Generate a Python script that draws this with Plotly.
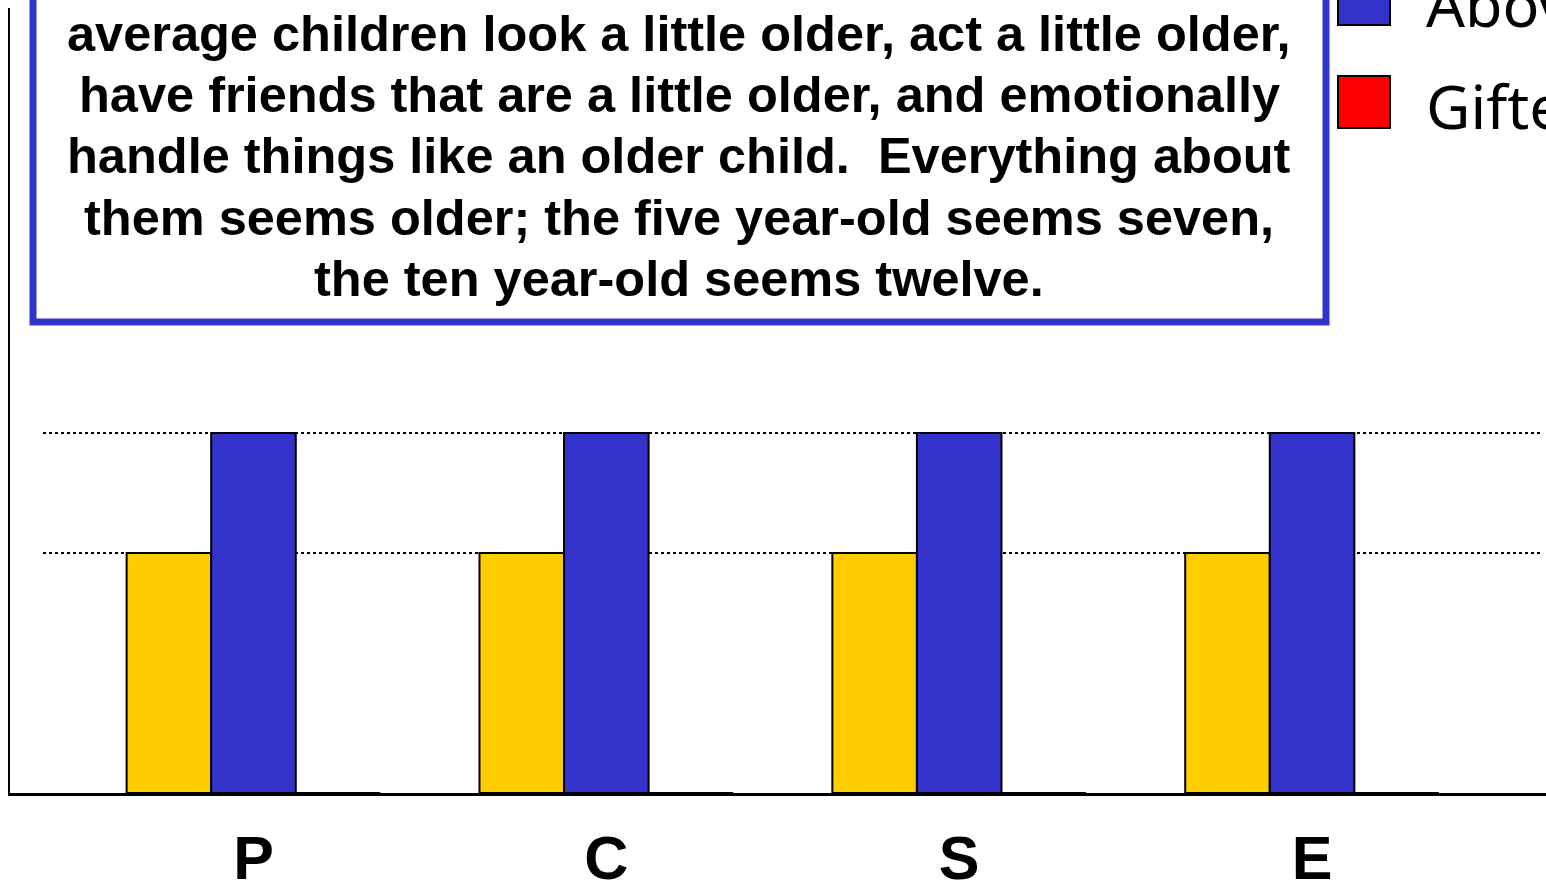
import plotly.graph_objects as go

# ---------------- data ----------------
categories = ["P", "C", "S", "E"]
series_names = ["Average", "Above Average", "Gifted"]
average = [2, 2, 2, 2]
above_average = [3, 3, 3, 3]
gifted = [0, 0, 0, 0]
series_colors = ["#FFCC00", "#3333CC", "#FF0000"]
gridline_values = [2, 3]
box_lines = [
    "average children look a little older, act a little older,",
    "have friends that are a little older, and emotionally",
    "handle things like an older child.  Everything about",
    "them seems older; the five year-old seems seven,",
    "the ten year-old seems twelve.",
]

# ---------------- geometry helpers ----------------
W, H = 1546, 888
ML, MR, MT, MB = 10, 0, 8, 95
PW, PH = W - ML - MR, H - MT - MB


def px_x(px):
    return (px - ML) / PW


def px_y(py):
    return (H - MB - py) / PH


fig = go.Figure()
for name, vals, col in zip(series_names, [average, above_average, gifted], series_colors):
    fig.add_trace(go.Bar(
        x=categories, y=vals, name=name,
        marker=dict(color=col, line=dict(color="black", width=2)),
        showlegend=False,
    ))

shapes = []
# dotted gridlines
for gv in gridline_values:
    shapes.append(dict(type="line", xref="paper", yref="y",
                       x0=px_x(43), x1=px_x(1540), y0=gv, y1=gv,
                       line=dict(color="black", width=2, dash="dot"), layer="below"))

# text box
shapes.append(dict(type="rect", xref="paper", yref="paper",
                   x0=px_x(33), x1=px_x(1326), y0=px_y(322), y1=px_y(-80),
                   line=dict(color="#3333CC", width=7), fillcolor="white", layer="above"))

annotations = []
line_centers = [34, 95, 156, 217, 278]
for txt, cy in zip(box_lines, line_centers):
    annotations.append(dict(text=txt, xref="paper", yref="paper",
                            x=px_x(679), y=px_y(cy), xanchor="center", yanchor="middle",
                            showarrow=False,
                            font=dict(family="Liberation Sans, Arial", size=50.5, color="black",
                                      weight="bold")))

# custom legend
swatch_centers = [-104, -1, 102]
for name, col, cy in zip(series_names, series_colors, swatch_centers):
    shapes.append(dict(type="rect", xref="paper", yref="paper",
                       x0=px_x(1338), x1=px_x(1390), y0=px_y(cy + 26), y1=px_y(cy - 26),
                       line=dict(color="black", width=2), fillcolor=col, layer="above"))
    annotations.append(dict(text=name, xref="paper", yref="paper",
                            x=px_x(1424), y=px_y(cy + 4), xanchor="left", yanchor="middle",
                            showarrow=False,
                            font=dict(family="Noto Sans", size=61, color="black")))

fig.update_layout(
    width=W, height=H,
    margin=dict(l=ML, r=MR, t=MT, b=MB, pad=0, autoexpand=False),
    paper_bgcolor="white", plot_bgcolor="white",
    barmode="group", bargap=0.281, bargroupgap=0,
    showlegend=False,
    shapes=shapes, annotations=annotations,
    xaxis=dict(type="category", range=[-0.69, 3.663], showgrid=False, zeroline=False,
               showline=True, linecolor="black", linewidth=3, ticks="",
               automargin=False, ticklabelstandoff=10,
               tickfont=dict(family="Liberation Sans, Arial", size=61, color="black", weight="bold")),
    yaxis=dict(range=[0, PH / 120], showgrid=False, zeroline=False, automargin=False,
               showline=True, linecolor="black", linewidth=2, showticklabels=False, ticks=""),
)

fig.write_html("out.html", config={"displayModeBar": False},
               post_script="document.body.style.margin='0';document.body.style.overflow='hidden';")
